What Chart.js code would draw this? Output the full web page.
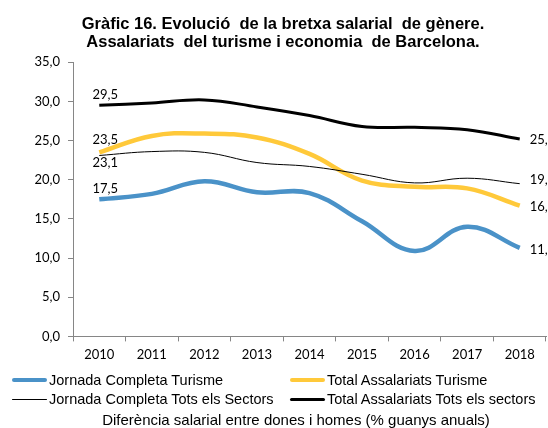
<!DOCTYPE html>
<html lang="ca">
<head>
<meta charset="utf-8">
<title>Gràfic 16. Bretxa salarial de gènere</title>
<script src="https://cdn.jsdelivr.net/npm/chart.js@4.4.0/dist/chart.umd.min.js"></script>
<style>
  html, body { margin: 0; padding: 0; background: #fff; }
  #wrap { position: relative; width: 548px; height: 428px; overflow: hidden; }
  #chart { position: absolute; left: 0; top: 0; }
  .leg { position: absolute; font: 14.5px "Liberation Sans", Arial, sans-serif; color: #000; white-space: nowrap; line-height: 16px; }
  .leg span { position: absolute; left: 0; }
  #axisTitle { position: absolute; left: 0; width: 592px; top: 411px; text-align: center;
               font: 15px "Liberation Sans", Arial, sans-serif; color: #000; white-space: nowrap; }
</style>
</head>
<body>
<div id="wrap">
  <canvas id="chart" width="548" height="428"></canvas>
  <div id="legend"></div>
  <div id="axisTitle">Diferència salarial entre dones i homes (% guanys anuals)</div>
</div>
<script>
// ---- dades ----
const years = ['2010', '2011', '2012', '2013', '2014', '2015', '2016', '2017', '2018'];

const jornadaTurisme = [17.5, 18.2, 19.8, 18.4, 18.3, 14.7, 10.9, 14.0, 11.3];
const totalTurisme   = [23.5, 25.6, 25.9, 25.4, 23.3, 19.9, 19.1, 18.9, 16.7];
const jornadaTots    = [23.1, 23.6, 23.5, 22.2, 21.7, 20.7, 19.6, 20.2, 19.5];
const totalTots      = [29.5, 29.8, 30.2, 29.3, 28.2, 26.8, 26.7, 26.4, 25.2];

const seriesNames = [
  'Jornada Completa Turisme',
  'Total Assalariats Turisme',
  'Jornada Completa Tots els Sectors',
  'Total Assalariats Tots els sectors'
];

const titleLines = [
  'Gràfic 16. Evolució  de la bretxa salarial  de gènere.',
  'Assalariats  del turisme i economia  de Barcelona.'
];

// ---- estil ----
const BLUE = '#4a92c8';
const YELLOW = '#ffc93a';
const AXIS = '#868686';
const tickFont = { family: 'Lato, "Open Sans", sans-serif', size: 13 };

// formata 23.5 -> "23,5"
function fmt(v) {
  return v.toFixed(1).replace('.', ',');
}

// etiquetes al primer i últim punt de cada sèrie
const endLabels = {
  id: 'endLabels',
  afterDatasetsDraw(chart) {
    const ctx = chart.ctx;
    ctx.save();
    ctx.font = '13px Lato, "Open Sans", sans-serif';
    ctx.fillStyle = '#000';
    chart.data.datasets.forEach((ds, i) => {
      const meta = chart.getDatasetMeta(i);
      const first = meta.data[0];
      const last = meta.data[meta.data.length - 1];
      // primer punt: a sobre o a sota
      ctx.textAlign = 'center';
      ctx.textBaseline = 'middle';
      ctx.fillText(fmt(ds.data[0]), first.x + 6, first.y + ds.firstOffset);
      // últim punt: a la dreta
      ctx.textAlign = 'left';
      ctx.fillText(fmt(ds.data[ds.data.length - 1]), last.x + 10, last.y + ds.lastOffset);
    });
    ctx.restore();
  }
};

const colors = [BLUE, YELLOW, '#000', '#000'];
const widths = [4.5, 4.5, 1, 3];
const values = [jornadaTurisme, totalTurisme, jornadaTots, totalTots];
const firstOffsets = [-11, -13, 7, -11];
const lastOffsets = [2, 1, -4, 1];

const datasets = values.map((vals, i) => ({
  label: seriesNames[i],
  data: vals,
  borderColor: colors[i],
  borderWidth: widths[i],
  pointRadius: 0,
  tension: 0.4,
  fill: false,
  order: 4 - i,           // com a Excel: l'última sèrie queda a sobre
  firstOffset: firstOffsets[i],
  lastOffset: lastOffsets[i]
}));

new Chart(document.getElementById('chart'), {
  type: 'line',
  data: { labels: years, datasets: datasets },
  plugins: [endLabels],
  options: {
    responsive: false,
    animation: false,
    layout: { padding: { left: 20, right: 2, top: 0, bottom: 59 } },
    plugins: {
      legend: { display: false },
      tooltip: { enabled: false },
      title: {
        display: true,
        text: titleLines,
        color: '#000',
        font: { family: '"Liberation Sans", Arial, sans-serif', size: 16.5, weight: 'bold', lineHeight: 1.1 },
        padding: { top: 15, bottom: 11 }
      }
    },
    scales: {
      x: {
        offset: true,
        grid: { offset: true, drawOnChartArea: false, color: AXIS, tickLength: 5 },
        border: { color: AXIS },
        ticks: { color: '#000', font: tickFont, padding: 6, maxRotation: 0 }
      },
      y: {
        min: 0,
        max: 35,
        afterFit(scale) { scale.width = 53; },
        grid: { drawOnChartArea: false, color: AXIS, tickLength: 5 },
        border: { color: AXIS },
        ticks: { stepSize: 5, color: '#000', font: tickFont, padding: 8, callback: v => fmt(v) }
      }
    }
  }
});

// ---- llegenda en dues columnes ----
const legendPos = [
  { x: 12, y: 372 }, { x: 290, y: 372 },
  { x: 12, y: 391 }, { x: 290, y: 391 }
];
const legend = document.getElementById('legend');
seriesNames.forEach((name, i) => {
  const item = document.createElement('div');
  item.className = 'leg';
  item.style.left = legendPos[i].x + 'px';
  item.style.top = legendPos[i].y + 'px';
  const line = document.createElement('span');
  line.style.width = '35px';
  line.style.height = widths[i] + 'px';
  line.style.top = (8 - widths[i] / 2) + 'px';
  line.style.background = colors[i];
  line.style.borderRadius = '2px';
  const text = document.createElement('span');
  text.textContent = name;
  text.style.left = '37px';
  item.appendChild(line);
  item.appendChild(text);
  legend.appendChild(item);
});
</script>
</body>
</html>
